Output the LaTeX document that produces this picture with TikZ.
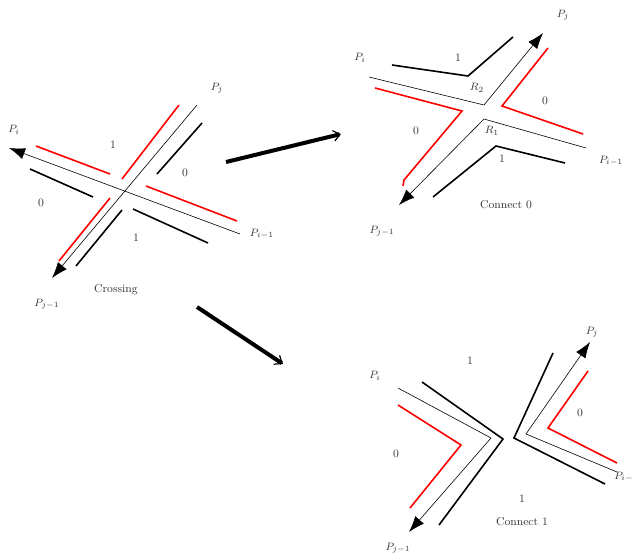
\documentclass[tikz,border=0pt]{standalone}
\usetikzlibrary{arrows.meta}
\begin{document}
\begin{tikzpicture}[x=0.75pt,y=-0.75pt,
  thinl/.style={line width=0.45pt,black},
  redl/.style={line width=1.2pt,red},
  blkl/.style={line width=1.2pt,black},
  tiparrow/.style={-{Latex[length=12pt,width=8.5pt]}},
  bigarrow/.style={line width=3pt,-{Straight Barb[length=5pt,width=8pt,line width=0.9pt]}},
  lab/.style={font=\fontsize{8.5}{10}\selectfont,inner sep=0pt,text=black!80}]
\useasboundingbox (0,0) rectangle (632,557);
% ---------------- Crossing ----------------
\coordinate (ci1) at (240,234); \coordinate (ci0) at (9,148);
\coordinate (cj1) at (197,105); \coordinate (cj0) at (52,278);
\draw[thinl,tiparrow] (ci1) -- (ci0);
\draw[thinl,tiparrow] (cj1) -- (cj0);
\coordinate (cr1a) at (36,146); \coordinate (cr1b) at (110,174);
\coordinate (cr2a) at (122,179); \coordinate (cr2b) at (179,105);
\coordinate (cr3a) at (146,186); \coordinate (cr3b) at (237,221);
\coordinate (cr4a) at (110,198); \coordinate (cr4b) at (59,261);
\draw[redl] (cr1a) -- (cr1b);
\draw[redl] (cr2a) -- (cr2b);
\draw[redl] (cr3a) -- (cr3b);
\draw[redl] (cr4a) -- (cr4b);
\coordinate (cb1a) at (30,169); \coordinate (cb1b) at (93,197);
\coordinate (cb2a) at (157,174); \coordinate (cb2b) at (202,123);
\coordinate (cb3a) at (133,209); \coordinate (cb3b) at (208,243);
\coordinate (cb4a) at (122,210); \coordinate (cb4b) at (76,266);
\draw[blkl] (cb1a) -- (cb1b);
\draw[blkl] (cb2a) -- (cb2b);
\draw[blkl] (cb3a) -- (cb3b);
\draw[blkl] (cb4a) -- (cb4b);
\node[lab] (cPi) at (14,130) {$P_i$};
\node[lab] (cPj) at (217,88) {$P_j$};
\node[lab] (cPi1) at (262,234) {$P_{i-1}$};
\node[lab] (cPj1) at (47,304) {$P_{j-1}$};
\node[lab] (cl1) at (113,145) {1};
\node[lab] (cl2) at (185,173) {0};
\node[lab] (cl3) at (41,203) {0};
\node[lab] (cl4) at (136,238) {1};
\node[lab] (ctitle) at (116,290) {Crossing};
% ---------------- Big arrows ----------------
\coordinate (ba1) at (226,162); \coordinate (bb1) at (341,134);
\coordinate (ba2) at (197,307); \coordinate (bb2) at (283,364);
\draw[bigarrow] (ba1) -- (bb1);
\draw[bigarrow] (ba2) -- (bb2);
% ---------------- Connect 0 ----------------
\coordinate (a1) at (369,77); \coordinate (a2) at (484,105); \coordinate (a3) at (543,33);
\coordinate (b1) at (586,148); \coordinate (b2) at (484,119); \coordinate (b3) at (399,205);
\draw[thinl,tiparrow] (a1) -- (a2) -- (a3);
\draw[thinl,tiparrow] (b1) -- (b2) -- (b3);
\coordinate (r1) at (375,88); \coordinate (r2) at (462,111); \coordinate (r3) at (404,180); \coordinate (r4) at (403,186);
\draw[redl] (r1) -- (r2) -- (r3) -- (r4);
\coordinate (s1) at (548,48); \coordinate (s2) at (502,106); \coordinate (s3) at (583,134);
\draw[redl] (s1) -- (s2) -- (s3);
\coordinate (k1) at (392,65); \coordinate (k2) at (468,76); \coordinate (k3) at (513,37);
\draw[blkl] (k1) -- (k2) -- (k3);
\coordinate (m1) at (433,197); \coordinate (m2) at (496,146); \coordinate (m3) at (565,163);
\draw[blkl] (m1) -- (m2) -- (m3);
\node[lab] (dPi) at (360,58) {$P_i$};
\node[lab] (dPj) at (563,15) {$P_j$};
\node[lab] (dPi1) at (611,161) {$P_{i-1}$};
\node[lab] (dPj1) at (382,231) {$P_{j-1}$};
\node[lab] (dl1) at (458,58) {1};
\node[lab] (dR2) at (477,88) {$R_2$};
\node[lab] (dl2) at (545,101) {0};
\node[lab] (dl3) at (416,131) {0};
\node[lab] (dR1) at (492,131) {$R_1$};
\node[lab] (dl4) at (502,159) {1};
\node[lab] (dtitle) at (506,205) {Connect 0};
% ---------------- Connect 1 ----------------
\coordinate (e1) at (398,388); \coordinate (e2) at (491,438); \coordinate (e3) at (409,532);
\coordinate (f1) at (617,472); \coordinate (f2) at (526,434); \coordinate (f3) at (590,342);
\draw[thinl,tiparrow] (e1) -- (e2) -- (e3);
\draw[thinl,tiparrow] (f1) -- (f2) -- (f3);
\coordinate (g1) at (398,405); \coordinate (g2) at (461,445); \coordinate (g3) at (410,508);
\draw[redl] (g1) -- (g2) -- (g3);
\coordinate (h1) at (588,371); \coordinate (h2) at (548,428); \coordinate (h3) at (617,463);
\draw[redl] (h1) -- (h2) -- (h3);
\coordinate (n1) at (422,382); \coordinate (n2) at (503,439); \coordinate (n3) at (439,525);
\draw[blkl] (n1) -- (n2) -- (n3);
\coordinate (o1) at (553,353); \coordinate (o2) at (514,438); \coordinate (o3) at (605,484);
\draw[blkl] (o1) -- (o2) -- (o3);
\node[lab] (fPi) at (375,376) {$P_i$};
\node[lab] (fPj) at (592,332) {$P_j$};
\node[lab,anchor=west] (fPi1) at (614,477) {$P_{i-1}$};
\node[lab] (fPj1) at (398,548) {$P_{j-1}$};
\node[lab] (fl1) at (470,361) {1};
\node[lab] (fl2) at (396,454) {0};
\node[lab] (fl3) at (580,413) {0};
\node[lab] (fl4) at (522,499) {1};
\node[lab] (ftitle) at (522,522) {Connect 1};
\end{tikzpicture}
\end{document}
